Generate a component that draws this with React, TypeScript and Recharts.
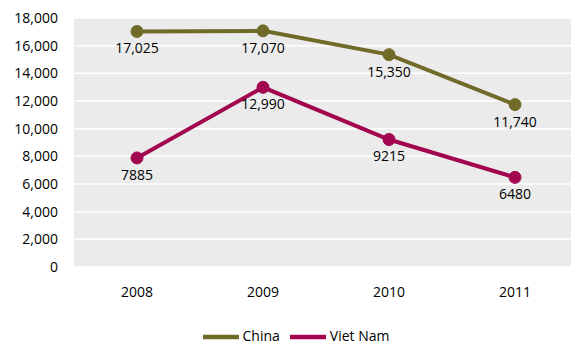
import React from "react";
import { LineChart, Line, XAxis, YAxis, CartesianGrid, Legend, LabelList } from "recharts";

const years = ["2008", "2009", "2010", "2011"];
const china = [17025, 17070, 15350, 11740];
const vietNam = [7885, 12990, 9215, 6480];
const yTicks = [0, 2000, 4000, 6000, 8000, 10000, 12000, 14000, 16000, 18000];

const data = years.map((y, i) => ({ year: y, China: china[i], "Viet Nam": vietNam[i] }));

const font = "'Open Sans', 'Liberation Sans', sans-serif";
const fmt = (v: number) => v.toLocaleString("en-US");
const fmtLabel = (v: number) => (v >= 10000 ? v.toLocaleString("en-US") : String(v));

export default function App() {
  return (
    <div style={{ position: "absolute", left: 0, top: 0, width: 571, height: 347, overflow: "hidden", fontFamily: font }}>
      <LineChart
        width={578}
        height={347}
        data={data}
        margin={{ top: 18, right: 0, left: 0, bottom: 40 }}
      >
        <CartesianGrid vertical={false} stroke="#ffffff" strokeWidth={1.5} fill="#ebebeb" />
        <XAxis
          dataKey="year"
          axisLine={false}
          tickLine={false}
          tickSize={0}
          tickMargin={20}
          height={40}
          padding={{ left: 63, right: 63 }}
          tick={{ fill: "#000", fontSize: 14, fontFamily: font }}
        />
        <YAxis
          domain={[0, 18000]}
          ticks={yTicks}
          interval={0}
          axisLine={false}
          tickLine={false}
          tickSize={0}
          tickMargin={16}
          width={74}
          tickFormatter={fmt}
          tick={{ fill: "#000", fontSize: 14, fontFamily: font }}
        />
        <Legend
          verticalAlign="middle"
          layout="horizontal"
          iconType="plainline"
          iconSize={36}
          wrapperStyle={{ top: 319, left: 12, width: 578, fontSize: 14, fontFamily: font, color: "#000" }}
          formatter={(v: string) => <span style={{ color: "#000" }}>{v}</span>}
        />
        <Line
          dataKey="China"
          stroke="#716b29"
          strokeWidth={4}
          dot={{ r: 6, fill: "#716b29", stroke: "#716b29", strokeWidth: 1 }}
          isAnimationActive={false}
        >
          <LabelList dataKey="China" position="bottom" offset={12} formatter={fmtLabel} style={{ fill: "#000", fontSize: 14, fontFamily: font }} />
        </Line>
        <Line
          dataKey="Viet Nam"
          stroke="#a1064f"
          strokeWidth={4}
          dot={{ r: 6, fill: "#a1064f", stroke: "#a1064f", strokeWidth: 1 }}
          isAnimationActive={false}
        >
          <LabelList dataKey="Viet Nam" position="bottom" offset={12} formatter={fmtLabel} style={{ fill: "#000", fontSize: 14, fontFamily: font }} />
        </Line>
      </LineChart>
    </div>
  );
}
